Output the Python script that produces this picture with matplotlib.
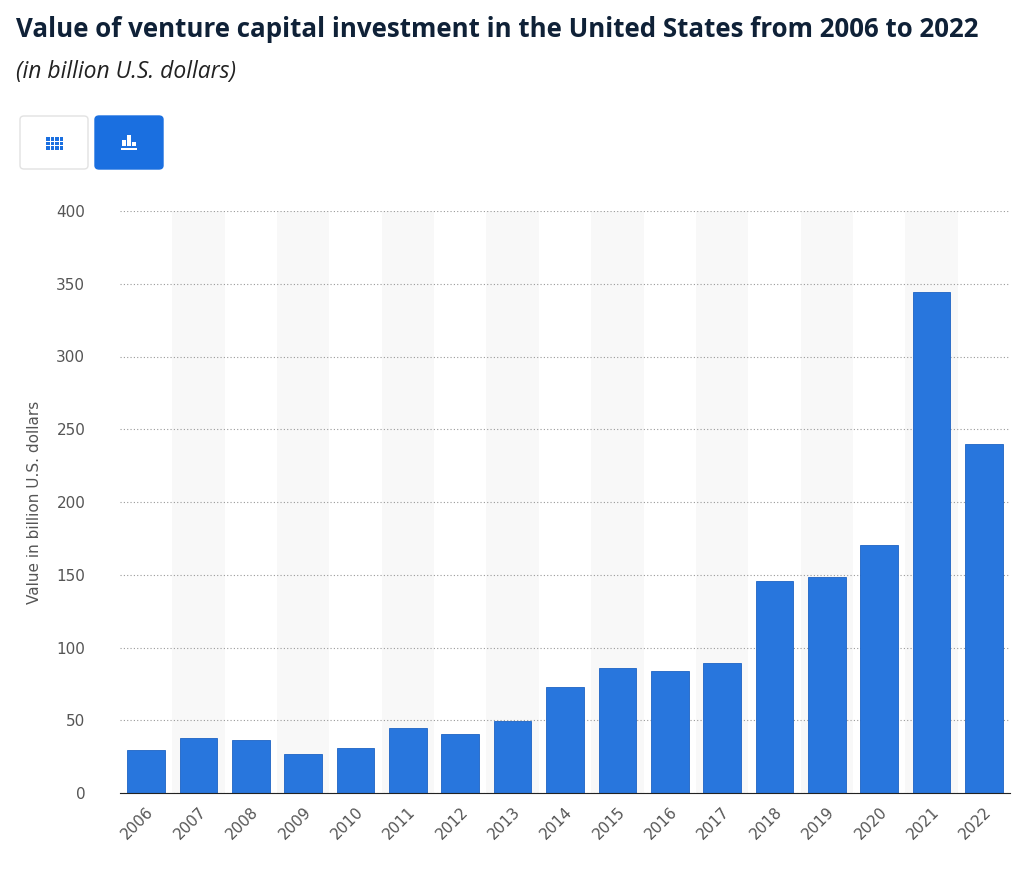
import matplotlib.pyplot as plt
from matplotlib.patches import FancyBboxPatch, Rectangle

years = [str(y) for y in range(2006, 2023)]
values = [29.5, 37.8, 36.4, 26.8, 31.0, 44.7, 40.5, 49.5, 72.9, 86.0, 83.8, 89.3,
          145.7, 148.5, 170.4, 344.3, 239.9]
yticks = [0, 50, 100, 150, 200, 250, 300, 350, 400]

fig = plt.figure(figsize=(10.24, 8.82), dpi=100)
fig.text(0.016, 0.966, "Value of venture capital investment in the United States from 2006 to 2022",
         fontsize=18.6, fontweight="bold", color="#0f2137", va="center", family="Open Sans")
fig.text(0.016, 0.918, "(in billion U.S. dollars)", fontsize=16.5, style="italic",
         color="#222222", va="center", family="Open Sans")

# view toggle buttons
W, H = 1024, 882
b1 = FancyBboxPatch((20 / W, 1 - 169 / H), 68 / W, 53 / H, boxstyle="round,pad=0,rounding_size=0.004",
                    transform=fig.transFigure, facecolor="white", edgecolor="#e2e2e2", lw=1)
b2 = FancyBboxPatch((95 / W, 1 - 169 / H), 68 / W, 53 / H, boxstyle="round,pad=0,rounding_size=0.004",
                    transform=fig.transFigure, facecolor="#1a6fe0", edgecolor="#1a6fe0", lw=1)
fig.patches += [b1, b2]
# grid icon
for r in range(3):
    for c in range(4):
        fig.patches.append(Rectangle(((46 + c * 4.5) / W, 1 - (137 + r * 4.5 + 3.5) / H), 3.5 / W, 3.5 / H,
                                     transform=fig.transFigure, facecolor="#1a6fe0", lw=0))
# bar icon
for bx, bh in [(122, 6), (127, 11), (132, 4)]:
    fig.patches.append(Rectangle((bx / W, 1 - 146 / H), 3.5 / W, bh / H,
                                 transform=fig.transFigure, facecolor="white", lw=0))
fig.patches.append(Rectangle((121 / W, 1 - 149.5 / H), 16 / W, 1.5 / H,
                             transform=fig.transFigure, facecolor="white", lw=0))

ax = fig.add_axes([120 / W, 89 / H, 890 / W, 582 / H])
x = list(range(len(years)))
for i in x:
    if i % 2 == 1:
        ax.axvspan(i - 0.5, i + 0.5, ymin=0, ymax=1, color="#f8f8f8", zorder=0, lw=0)
ax.bar(x, values, width=0.72, color="#2876dd", edgecolor="#1d63c4", lw=0.6, zorder=3)

ax.set_xlim(-0.5, len(years) - 0.5)
ax.set_ylim(0, 400)
ax.set_yticks(yticks)
ax.set_xticks(x)
ax.set_xticklabels(years, rotation=45, ha="right", rotation_mode="anchor")
ax.tick_params(axis="both", length=0, colors="#555555", labelsize=11)
ax.tick_params(axis="x", pad=8)
ax.tick_params(axis="y", pad=25)
ax.grid(axis="y", linestyle=(0, (1, 2)), color="#999999", lw=0.8, zorder=1)
for s in ["top", "right", "left"]:
    ax.spines[s].set_visible(False)
ax.spines["bottom"].set_color("#222222")
ax.spines["bottom"].set_zorder(4)
ax.set_ylabel("Value in billion U.S. dollars", color="#555555", fontsize=11, labelpad=10)

fig.savefig("out.png", dpi=100)
